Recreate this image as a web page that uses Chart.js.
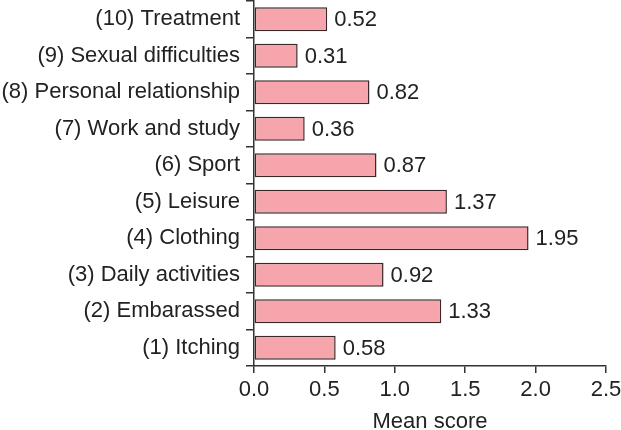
<!DOCTYPE html>
<html>
<head>
<meta charset="utf-8">
<script src="https://cdn.jsdelivr.net/npm/chart.js@4/dist/chart.umd.min.js"></script>
<style>
  html, body { margin: 0; padding: 0; background: #fff; }
  #wrap { width: 621px; height: 430px; }
</style>
</head>
<body>
<div id="wrap"><canvas id="bar-chart" width="621" height="430"></canvas></div>
<script>
const categories = [
  "(10) Treatment",
  "(9) Sexual difficulties",
  "(8) Personal relationship",
  "(7) Work and study",
  "(6) Sport",
  "(5) Leisure",
  "(4) Clothing",
  "(3) Daily activities",
  "(2) Embarassed",
  "(1) Itching",
];
const meanScores = [0.52, 0.31, 0.82, 0.36, 0.87, 1.37, 1.95, 0.92, 1.33, 0.58];
const xTicks = [0, 0.5, 1.0, 1.5, 2.0, 2.5];

const font = { family: "'Liberation Sans', Arial, sans-serif", size: 22 };
const ink = "#222";
const axisColor = "#333";

// writes the value next to the end of each bar
const valueLabels = {
  id: "valueLabels",
  afterDatasetsDraw(chart) {
    const ctx = chart.ctx;
    const meta = chart.getDatasetMeta(0);
    ctx.save();
    ctx.font = font.size + "px " + font.family;
    ctx.fillStyle = ink;
    ctx.textAlign = "left";
    ctx.textBaseline = "middle";
    meta.data.forEach((bar, i) => {
      ctx.fillText(meanScores[i].toFixed(2), bar.x + 7, bar.y + 1);
    });
    ctx.restore();
  },
};

new Chart(document.getElementById("bar-chart"), {
  type: "bar",
  data: {
    labels: categories,
    datasets: [
      {
        data: meanScores,
        backgroundColor: "#f5a5ab",
        borderColor: "#3a2828",
        borderWidth: 1.5,
        borderSkipped: false,
        barPercentage: 0.66,
        categoryPercentage: 1,
      },
    ],
  },
  options: {
    indexAxis: "y",
    responsive: false,
    animation: false,
    devicePixelRatio: 1,
    layout: { padding: { top: 1, right: 15, left: 0, bottom: 0 } },
    plugins: {
      legend: { display: false },
      tooltip: { enabled: false },
    },
    scales: {
      x: {
        min: 0,
        max: 2.5,
        afterBuildTicks: (scale) => {
          scale.ticks = xTicks.map((v) => ({ value: v }));
        },
        ticks: {
          font: font,
          color: ink,
          padding: 4,
          maxRotation: 0,
          callback: (v) => Number(v).toFixed(1),
        },
        grid: { drawOnChartArea: false, tickLength: 7, color: axisColor, lineWidth: 1.5 },
        border: { color: axisColor, width: 1.5 },
        title: {
          display: true,
          text: "Mean score",
          font: font,
          color: ink,
          padding: { top: 4, bottom: -5 },
        },
        afterFit: (scale) => {
          scale.height = 64;
          scale.paddingLeft = 0;
          scale.paddingRight = 0;
        },
      },
      y: {
        ticks: { font: font, color: ink, padding: 6 },
        grid: { drawOnChartArea: false, tickLength: 8, color: axisColor, lineWidth: 1.5, offset: true },
        border: { color: axisColor, width: 1.5 },
        afterFit: (scale) => {
          scale.width = 254;
          scale.paddingTop = 0;
          scale.paddingBottom = 0;
        },
      },
    },
  },
  plugins: [valueLabels],
});
</script>
</body>
</html>
